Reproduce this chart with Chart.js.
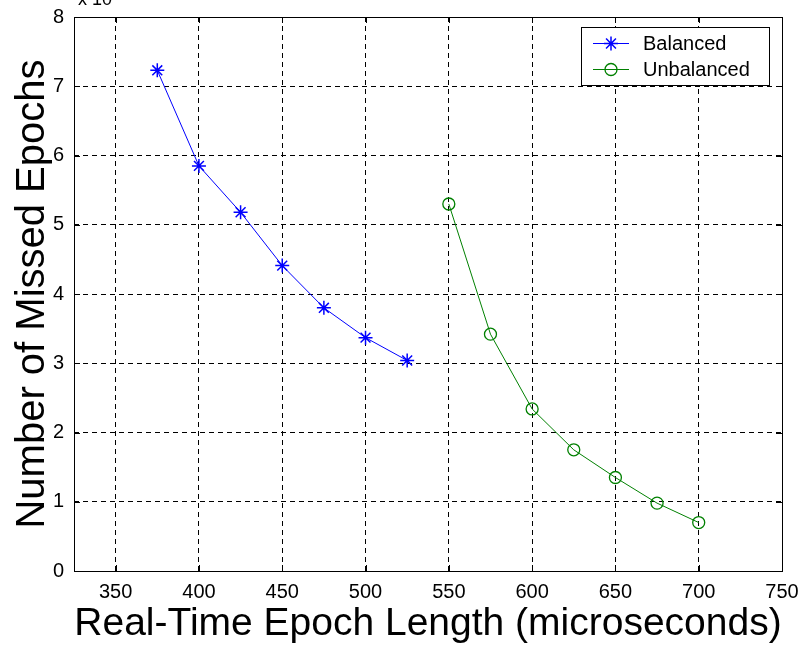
<!DOCTYPE html>
<html>
<head>
<meta charset="utf-8">
<script src="https://cdn.jsdelivr.net/npm/chart.js@4/dist/chart.umd.min.js"></script>
<style>
  html, body { margin: 0; padding: 0; background: #fff; }
</style>
</head>
<body>
<canvas id="chart" width="803" height="648"></canvas>
<script>
// epoch length (microseconds) and missed epochs (axis scaled by x 10^n)
const balancedLength = [375, 400, 425, 450, 475, 500, 525];
const balancedMissed = [7.23, 5.85, 5.18, 4.41, 3.80, 3.37, 3.04];
const unbalancedLength = [550, 575, 600, 625, 650, 675, 700];
const unbalancedMissed = [5.30, 3.42, 2.34, 1.75, 1.35, 0.98, 0.70];

const xTickValues = [350, 400, 450, 500, 550, 600, 650, 700, 750];
const yTickValues = [0, 1, 2, 3, 4, 5, 6, 7, 8];

const toPoints = (xs, ys) => xs.map((x, i) => ({ x: x, y: ys[i] }));

const tickFont = { family: "'Liberation Sans Narrow', 'Liberation Sans', Arial, sans-serif", size: 20 };
const labelFont = "'Liberation Sans', Arial, sans-serif";

// box, inward ticks, legend and the exponent note, drawn like a matlab axes
const matlabAxes = {
    id: 'matlabAxes',
    afterDatasetsDraw(chart) {
        const { ctx, chartArea: a, scales } = chart;
        ctx.save();
        ctx.strokeStyle = '#000';
        ctx.lineWidth = 1;
        ctx.setLineDash([]);
        ctx.strokeRect(Math.round(a.left) + 0.5, Math.round(a.top) + 0.5,
            Math.round(a.right - a.left), Math.round(a.bottom - a.top));

        ctx.beginPath();
        xTickValues.forEach(v => {
            const px = Math.round(scales.x.getPixelForValue(v)) + 0.5;
            ctx.moveTo(px, a.bottom); ctx.lineTo(px, a.bottom - 6);
            ctx.moveTo(px, a.top); ctx.lineTo(px, a.top + 6);
        });
        yTickValues.forEach(v => {
            const py = Math.round(scales.y.getPixelForValue(v)) + 0.5;
            ctx.moveTo(a.left, py); ctx.lineTo(a.left + 6, py);
            ctx.moveTo(a.right, py); ctx.lineTo(a.right - 6, py);
        });
        ctx.stroke();

        // legend box
        const lx = 581, ly = 27, lw = 188, lh = 58;
        ctx.fillStyle = '#fff';
        ctx.fillRect(lx, ly, lw, lh);
        ctx.strokeRect(lx + 0.5, ly + 0.5, lw, lh);
        chart.data.datasets.forEach((ds, i) => {
            const y = ly + 16 + i * 26;
            ctx.strokeStyle = ds.borderColor;
            ctx.lineWidth = 1;
            ctx.beginPath();
            ctx.moveTo(593, y + 0.5); ctx.lineTo(629, y + 0.5);
            ctx.stroke();
            ctx.fillStyle = ds.pointBackgroundColor;
            ctx.strokeStyle = ds.pointBorderColor;
            ctx.lineWidth = ds.pointBorderWidth;
            Chart.helpers.drawPoint(ctx, {
                pointStyle: ds.pointStyle, radius: ds.pointRadius,
                borderWidth: ds.pointBorderWidth, rotation: 0
            }, 611, y + 0.5);
            ctx.fillStyle = '#000';
            ctx.font = '20px ' + labelFont;
            ctx.textBaseline = 'middle';
            ctx.textAlign = 'left';
            ctx.fillText(ds.label, 643, y + 1);
        });

        // exponent note, cut off at the top like the original
        ctx.fillStyle = '#000';
        ctx.font = "18px " + labelFont;
        ctx.textBaseline = 'alphabetic';
        ctx.fillText('x 10', 78, 5);
        ctx.restore();
    }
};

const noEdgePadding = s => {
    s.paddingLeft = 0; s.paddingRight = 0;
    s.paddingTop = 0; s.paddingBottom = 0;
};

new Chart(document.getElementById('chart'), {
    type: 'line',
    data: {
        datasets: [{
            label: 'Balanced',
            data: toPoints(balancedLength, balancedMissed),
            borderColor: '#0000ff',
            borderWidth: 1,
            pointStyle: 'star',
            pointRadius: 7,
            pointBorderWidth: 1.5,
            pointBorderColor: '#0000ff',
            pointBackgroundColor: '#0000ff',
            tension: 0
        }, {
            label: 'Unbalanced',
            data: toPoints(unbalancedLength, unbalancedMissed),
            borderColor: '#008000',
            borderWidth: 1,
            pointStyle: 'circle',
            pointRadius: 6,
            pointBorderWidth: 1.3,
            pointBorderColor: '#008000',
            pointBackgroundColor: 'rgba(0,0,0,0)',
            tension: 0
        }]
    },
    options: {
        responsive: false,
        animation: false,
        devicePixelRatio: 1,
        layout: { padding: { top: 17, right: 21, left: 0, bottom: 0 } },
        scales: {
            x: {
                type: 'linear',
                min: 325,
                max: 750,
                afterFit: s => { s.height = 77; noEdgePadding(s); },
                afterBuildTicks: s => { s.ticks = xTickValues.map(v => ({ value: v })); },
                grid: { color: '#000', lineWidth: 1, drawTicks: false },
                border: { display: false, dash: [5, 4] },
                ticks: { font: tickFont, color: '#000', padding: 9, maxRotation: 0 },
                title: {
                    display: true,
                    text: 'Real-Time Epoch Length (microseconds)',
                    color: '#000',
                    font: { family: labelFont, size: 39, lineHeight: 1.2 },
                    padding: { top: 0, bottom: 0 }
                }
            },
            y: {
                min: 0,
                max: 8,
                afterFit: s => { s.width = 74; noEdgePadding(s); },
                afterBuildTicks: s => { s.ticks = yTickValues.map(v => ({ value: v })); },
                grid: { color: '#000', lineWidth: 1, drawTicks: false },
                border: { display: false, dash: [5, 4] },
                ticks: { font: tickFont, color: '#000', padding: 10 },
                title: {
                    display: true,
                    text: 'Number of Missed Epochs',
                    color: '#000',
                    font: { family: labelFont, size: 40, lineHeight: 1.2 },
                    padding: { top: 9, bottom: 0 }
                }
            }
        },
        plugins: {
            legend: { display: false },
            tooltip: { enabled: false }
        }
    },
    plugins: [matlabAxes]
});
</script>
</body>
</html>
